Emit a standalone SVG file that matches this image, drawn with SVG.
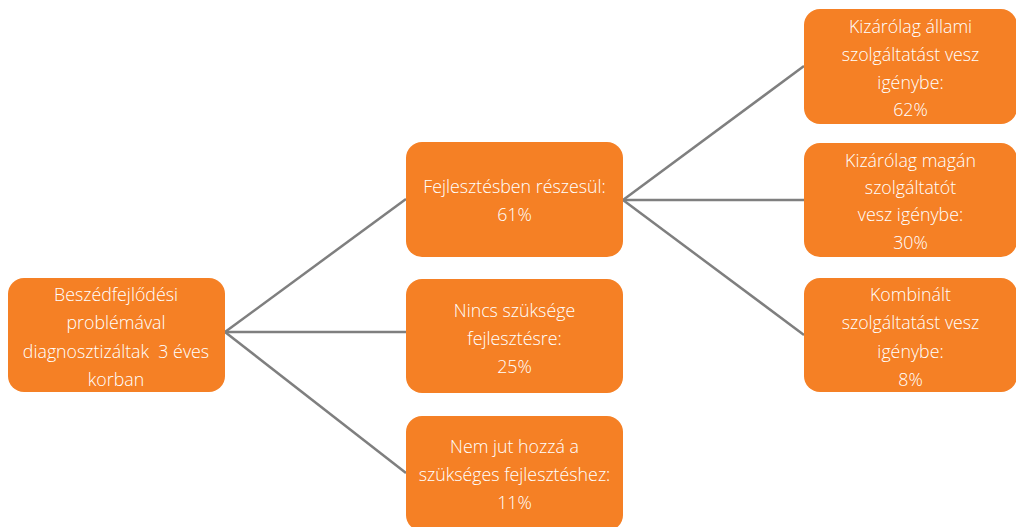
<svg xmlns="http://www.w3.org/2000/svg" width="1016" height="527" viewBox="0 0 1016 527">
<style>
.box{fill:#F58025;}
.t{fill:#ffffff;font-family:"Open Sans","Liberation Sans",sans-serif;font-weight:300;font-size:17.8px;text-anchor:middle;dominant-baseline:central;}
.c{stroke:#7f7f7f;stroke-width:2.5;fill:none;}
</style>
<rect width="1016" height="527" fill="#ffffff"/>
<g id="connectors">
<line class="c" x1="225" y1="332" x2="406" y2="199"/>
<line class="c" x1="225" y1="332" x2="406" y2="332"/>
<line class="c" x1="225" y1="332" x2="406" y2="473"/>
<line class="c" x1="623" y1="200" x2="804" y2="66"/>
<line class="c" x1="623" y1="200" x2="804" y2="200"/>
<line class="c" x1="623" y1="200" x2="804" y2="335"/>
</g>
<g id="root">
<rect class="box" x="8" y="278" width="217" height="114" rx="16"/>
<text class="t" x="116" y="294">Beszédfejlődési</text>
<text class="t" x="116" y="322">problémával</text>
<text class="t" x="116" y="351" xml:space="preserve">diagnosztizáltak  3 éves</text>
<text class="t" x="116" y="379">korban</text>
</g>
<g id="n1">
<rect class="box" x="406" y="142" width="217" height="115" rx="16"/>
<text class="t" x="514.5" y="186">Fejlesztésben részesül:</text>
<text class="t" x="514.5" y="214">61%</text>
</g>
<g id="n2">
<rect class="box" x="406" y="279" width="217" height="114" rx="16"/>
<text class="t" x="514.5" y="310">Nincs szüksége</text>
<text class="t" x="514.5" y="338">fejlesztésre:</text>
<text class="t" x="514.5" y="366">25%</text>
</g>
<g id="n3">
<rect class="box" x="406" y="416" width="217" height="115" rx="16"/>
<text class="t" x="514.5" y="446">Nem jut hozzá a</text>
<text class="t" x="514.5" y="474">szükséges fejlesztéshez:</text>
<text class="t" x="514.5" y="502">11%</text>
</g>
<g id="n4">
<rect class="box" x="804" y="9" width="213" height="115" rx="16"/>
<text class="t" x="910.5" y="26">Kizárólag állami</text>
<text class="t" x="910.5" y="54">szolgáltatást vesz</text>
<text class="t" x="910.5" y="82">igénybe:</text>
<text class="t" x="910.5" y="109">62%</text>
</g>
<g id="n5">
<rect class="box" x="804" y="143" width="213" height="114" rx="16"/>
<text class="t" x="910.5" y="160">Kizárólag magán</text>
<text class="t" x="910.5" y="187">szolgáltatót</text>
<text class="t" x="910.5" y="214">vesz igénybe:</text>
<text class="t" x="910.5" y="242">30%</text>
</g>
<g id="n6">
<rect class="box" x="804" y="278" width="213" height="114" rx="16"/>
<text class="t" x="910.5" y="294">Kombinált</text>
<text class="t" x="910.5" y="322">szolgáltatást vesz</text>
<text class="t" x="910.5" y="351">igénybe:</text>
<text class="t" x="910.5" y="379">8%</text>
</g>
</svg>
